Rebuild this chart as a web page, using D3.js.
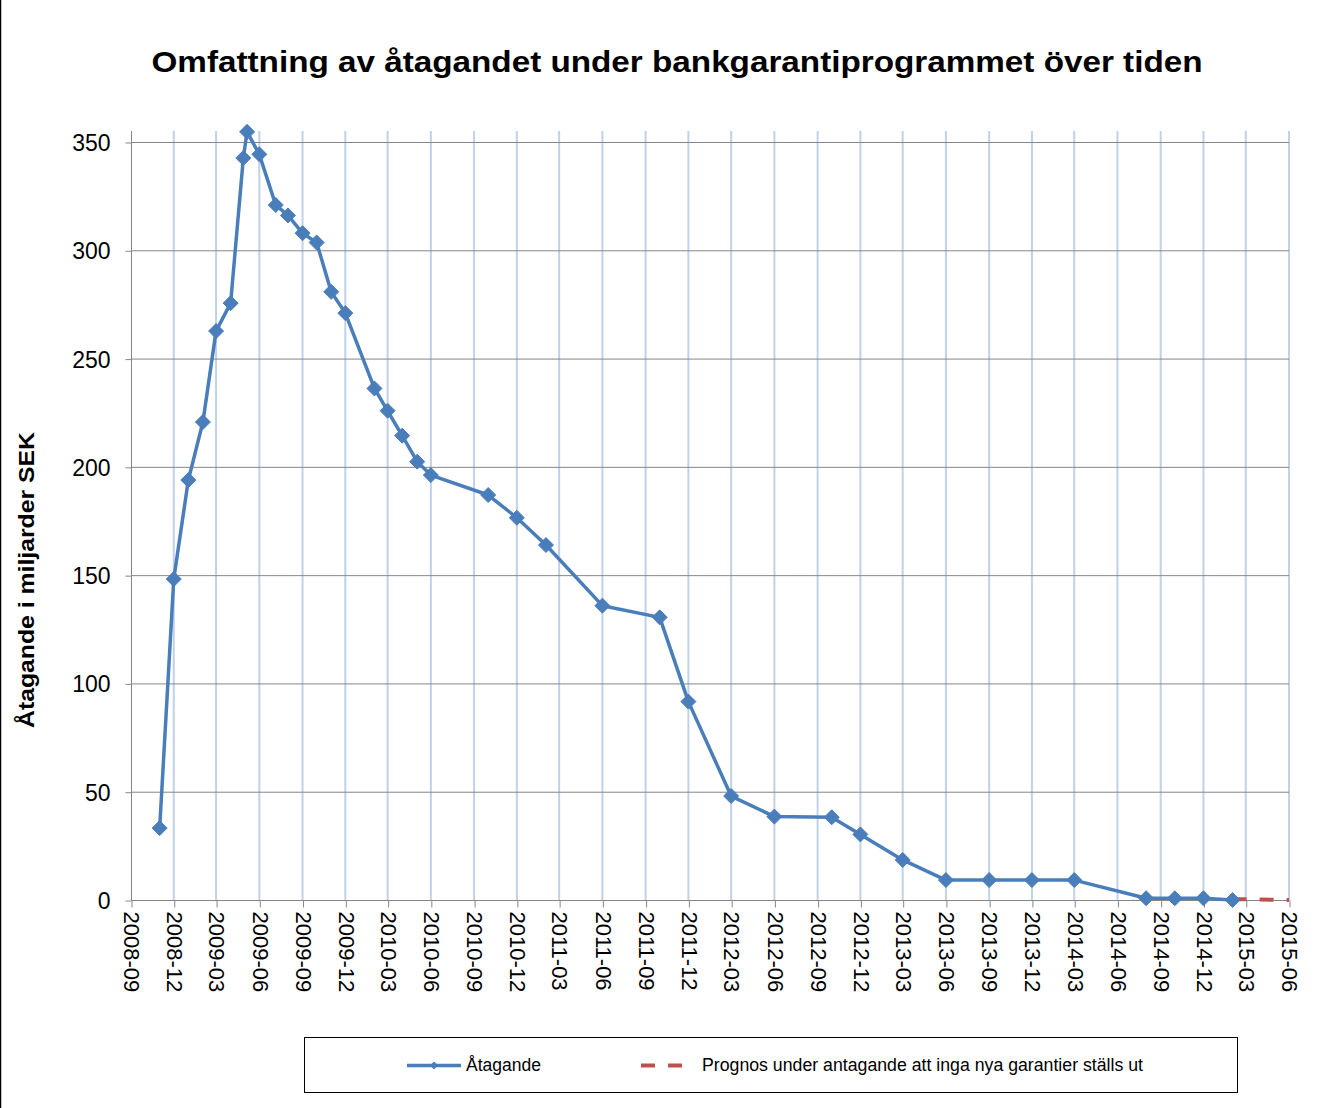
<!DOCTYPE html>
<html>
<head>
<meta charset="utf-8">
<script src="https://cdn.jsdelivr.net/npm/d3@7"></script>
<style>
  html, body { margin: 0; padding: 0; background: #fff; }
  svg { display: block; font-family: "Liberation Sans", Arial, sans-serif; }
</style>
</head>
<body>
<svg id="chart" width="1337" height="1108"></svg>
<script>
// ---- Data ----
const dates = ["2008-11-01","2008-12-01","2009-01-01","2009-02-01","2009-03-01","2009-04-01","2009-04-28","2009-05-06","2009-06-01","2009-07-06","2009-08-01","2009-09-01","2009-10-01","2009-11-01","2009-12-01","2010-02-01","2010-03-01","2010-04-01","2010-05-03","2010-06-01","2010-10-01","2010-12-01","2011-02-01","2011-06-01","2011-10-01","2011-12-01","2012-03-01","2012-06-01","2012-10-01","2012-12-01","2013-03-01","2013-06-01","2013-09-01","2013-12-01","2014-03-01","2014-08-01","2014-10-01","2014-12-01","2015-02-01"];
const values = [33.2,148.2,193.9,220.7,262.7,275.6,342.6,354.7,344.3,320.9,316.1,307.9,303.6,280.8,271.0,236.2,225.9,214.4,202.4,196.2,187.0,176.5,163.9,135.9,130.5,91.6,48.0,38.5,38.2,30.3,18.5,9.2,9.2,9.2,9.2,0.8,0.8,0.8,0.0];
const forecastDates = ["2015-02-01","2015-06-01"];
const forecastValues = [0.4, 0.0];
const xTickLabels = ["2008-09","2008-12","2009-03","2009-06","2009-09","2009-12","2010-03","2010-06","2010-09","2010-12","2011-03","2011-06","2011-09","2011-12","2012-03","2012-06","2012-09","2012-12","2013-03","2013-06","2013-09","2013-12","2014-03","2014-06","2014-09","2014-12","2015-03","2015-06"];
const yTicks = [0,50,100,150,200,250,300,350];
const titleText = "Omfattning av åtagandet under bankgarantiprogrammet över tiden";
const yTitle = "Åtagande i miljarder SEK";
const seriesNames = ["Åtagande", "Prognos under antagande att inga nya garantier ställs ut"];

// ---- Layout ----
const parse = d3.timeParse("%Y-%m-%d");
const parseM = d3.timeParse("%Y-%m");
const left = 131, right = 1289, bottom = 900, plotTop = 131;
const blue = "#4A7EBB", red = "#C0504D";

const x = d3.scaleTime()
  .domain([parseM(xTickLabels[0]), parseM(xTickLabels[xTickLabels.length - 1])])
  .range([left, right]);
const y = d3.scaleLinear().domain([0, 350]).range([bottom, 142]);

const svg = d3.select("#chart");

// left border
svg.append("line").attr("x1", 0.5).attr("x2", 0.5).attr("y1", 0).attr("y2", 1108)
  .attr("stroke", "#000").attr("stroke-width", 1.5);

// Title
svg.append("text").attr("x", 677).attr("y", 72).attr("text-anchor", "middle")
  .attr("font-weight", "bold").attr("font-size", 30)
  .attr("textLength", 1051).attr("lengthAdjust", "spacingAndGlyphs")
  .text(titleText);

// vertical gridlines
const tickDates = xTickLabels.map(parseM);
svg.append("g").selectAll("line").data(tickDates.slice(1)).join("line")
  .attr("x1", d => x(d)).attr("x2", d => x(d))
  .attr("y1", plotTop).attr("y2", bottom)
  .attr("stroke", "#C0D1EA").attr("stroke-width", 2);

// horizontal gridlines
svg.append("g").selectAll("line").data(yTicks.slice(1)).join("line")
  .attr("x1", left).attr("x2", right)
  .attr("y1", d => y(d) + 0.5).attr("y2", d => y(d) + 0.5)
  .attr("stroke", "#868686").attr("stroke-width", 1);

// Y axis
const yAxis = d3.axisLeft(y).tickValues(yTicks).tickSize(6).tickPadding(15);
const gy = svg.append("g").attr("transform", `translate(${left + 0.5},0.5)`).call(yAxis);
gy.select(".domain").attr("d", `M0,${plotTop - 0.5}V${bottom}`).attr("stroke", "#868686");
gy.selectAll(".tick line").attr("stroke", "#868686");
gy.selectAll(".tick text").attr("font-size", 23).attr("font-family", "Liberation Sans, Arial, sans-serif")
  .attr("fill", "#000").attr("dy", "0.35em");

// X axis
const xAxis = d3.axisBottom(x).tickValues(tickDates).tickSize(7).tickFormat((d, i) => xTickLabels[i]);
const gx = svg.append("g").attr("transform", `translate(0.5,${bottom + 0.5})`).call(xAxis);
gx.select(".domain").attr("d", `M${left},0H${right}`).attr("stroke", "#868686");
gx.selectAll(".tick line").attr("stroke", "#868686");
gx.selectAll(".tick text")
  .attr("font-size", 22).attr("font-family", "Liberation Sans, Arial, sans-serif").attr("fill", "#000")
  .attr("text-anchor", "start")
  .attr("transform", "rotate(90)")
  .attr("x", 11).attr("y", 0).attr("dy", "0.35em");

// Y title
svg.append("text").attr("transform", "translate(34,580) rotate(-90)")
  .attr("text-anchor", "middle").attr("font-weight", "bold").attr("font-size", 22)
  .attr("textLength", 296).attr("lengthAdjust", "spacingAndGlyphs")
  .text(yTitle);

// Series
const data = dates.map((d, i) => ({ date: parse(d), value: values[i] }));
const fdata = forecastDates.map((d, i) => ({ date: parse(d), value: forecastValues[i] }));
const line = d3.line().x(d => x(d.date)).y(d => y(d.value));

svg.append("path").datum(fdata).attr("d", line)
  .attr("fill", "none").attr("stroke", red).attr("stroke-width", 4)
  .attr("stroke-dasharray", "14,13");

svg.append("path").datum(data).attr("d", line)
  .attr("fill", "none").attr("stroke", blue).attr("stroke-width", 3.5)
  .attr("stroke-linejoin", "round");

const diamond = s => `M0,${-s}L${s},0L0,${s}L${-s},0Z`;
svg.append("g").selectAll("path").data(data).join("path")
  .attr("transform", d => `translate(${x(d.date)},${y(d.value)})`)
  .attr("d", diamond(7.5)).attr("fill", blue).attr("stroke", blue).attr("stroke-width", 1);

// Legend
const lg = svg.append("g");
lg.append("rect").attr("x", 304.5).attr("y", 1037.5).attr("width", 933).attr("height", 55)
  .attr("fill", "none").attr("stroke", "#000").attr("stroke-width", 1);
lg.append("line").attr("x1", 407).attr("x2", 461).attr("y1", 1065.5).attr("y2", 1065.5)
  .attr("stroke", blue).attr("stroke-width", 3.5);
lg.append("path").attr("transform", "translate(434,1065.5)").attr("d", diamond(4)).attr("fill", blue);
lg.append("text").attr("x", 466).attr("y", 1071).attr("font-size", 17.5)
  .attr("textLength", 75).attr("lengthAdjust", "spacingAndGlyphs").text(seriesNames[0]);
lg.append("line").attr("x1", 641).attr("x2", 686).attr("y1", 1065.5).attr("y2", 1065.5)
  .attr("stroke", red).attr("stroke-width", 4).attr("stroke-dasharray", "14,13");
lg.append("text").attr("x", 702).attr("y", 1071).attr("font-size", 17.5)
  .attr("textLength", 441).attr("lengthAdjust", "spacingAndGlyphs").text(seriesNames[1]);
</script>
</body>
</html>
